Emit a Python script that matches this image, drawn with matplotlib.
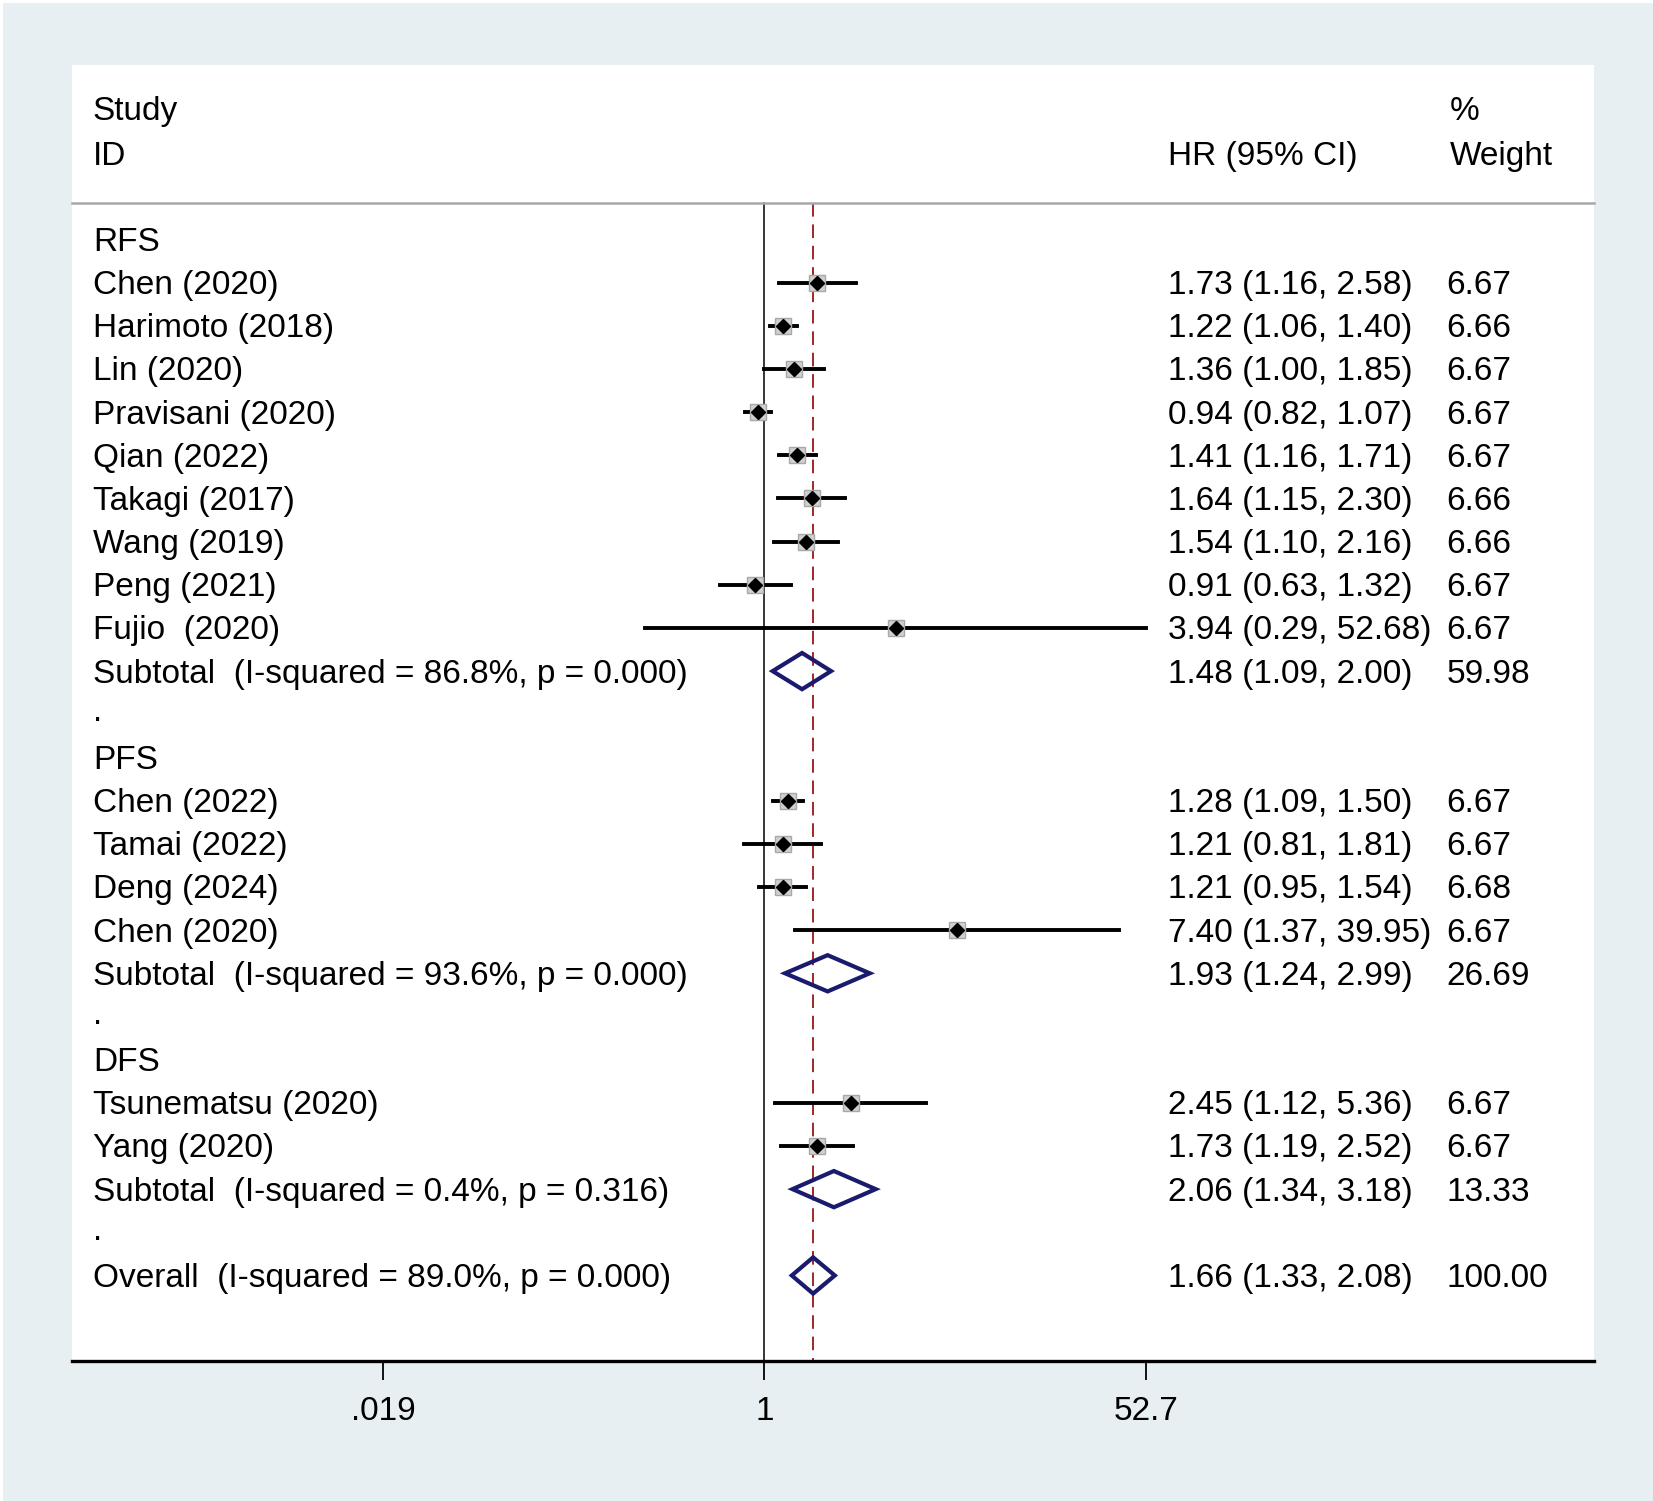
import matplotlib.pyplot as plt
import numpy as np
from matplotlib.patches import Polygon, Rectangle

plt.rcParams["font.family"] = ["Liberation Sans", "DejaVu Sans"]

# study rows, grouped
rfs_names = ["Chen (2020)", "Harimoto (2018)", "Lin (2020)", "Pravisani (2020)", "Qian (2022)",
             "Takagi (2017)", "Wang (2019)", "Peng (2021)", "Fujio  (2020)"]
rfs_hr = [1.73, 1.22, 1.36, 0.94, 1.41, 1.64, 1.54, 0.91, 3.94]
rfs_lo = [1.16, 1.06, 1.00, 0.82, 1.16, 1.15, 1.10, 0.63, 0.29]
rfs_hi = [2.58, 1.40, 1.85, 1.07, 1.71, 2.30, 2.16, 1.32, 52.68]
rfs_w = ["6.67", "6.66", "6.67", "6.67", "6.67", "6.66", "6.66", "6.67", "6.67"]

pfs_names = ["Chen (2022)", "Tamai (2022)", "Deng (2024)", "Chen (2020)"]
pfs_hr = [1.28, 1.21, 1.21, 7.40]
pfs_lo = [1.09, 0.81, 0.95, 1.37]
pfs_hi = [1.50, 1.81, 1.54, 39.95]
pfs_w = ["6.67", "6.67", "6.68", "6.67"]

dfs_names = ["Tsunematsu (2020)", "Yang (2020)"]
dfs_hr = [2.45, 1.73]
dfs_lo = [1.12, 1.19]
dfs_hi = [5.36, 2.52]
dfs_w = ["6.67", "6.67"]

group_labels = ["RFS", "PFS", "DFS"]
sub_labels = ["Subtotal  (I-squared = 86.8%, p = 0.000)",
              "Subtotal  (I-squared = 93.6%, p = 0.000)",
              "Subtotal  (I-squared = 0.4%, p = 0.316)"]
sub_hr = [1.48, 1.93, 2.06]
sub_lo = [1.09, 1.24, 1.34]
sub_hi = [2.00, 2.99, 3.18]
sub_w = ["59.98", "26.69", "13.33"]

overall_label = "Overall  (I-squared = 89.0%, p = 0.000)"
overall_hr, overall_lo, overall_hi, overall_w = 1.66, 1.33, 2.08, "100.00"

tick_vals = [0.019, 1, 52.7]
tick_labels = [".019", "1", "52.7"]

FS = 24
NAVY = "#1a1a6e"
DY = 0.07  # text sits a touch below the marks

fig = plt.figure(figsize=(16.53, 15.01), dpi=100)
fig.patch.set_facecolor("white")
fig.patches.append(Rectangle((0.002, 0.0), 0.998, 0.998, transform=fig.transFigure,
                             facecolor="#e8eff2", edgecolor="none", zorder=-10))

ax = fig.add_axes([0.0434, 0.0933, 0.9209, 0.8634])
ax.set_facecolor("white")
ax.set_xscale("log")
ax.set_xlim(np.exp(-7.196), np.exp(8.62))
y_top, y_bot = -4.04, 25.98
ax.set_ylim(y_bot, y_top)

for s in ["top", "left", "right"]:
    ax.spines[s].set_visible(False)
ax.spines["bottom"].set_linewidth(2.4)
ax.set_yticks([])
ax.set_xticks(tick_vals)
ax.set_xticklabels(tick_labels)
ax.xaxis.set_minor_locator(plt.NullLocator())
ax.tick_params(axis="x", length=14, width=1.3, pad=11, labelsize=FS)

tx = ax.get_yaxis_transform()  # x in axes fraction, y in data
x_name, x_hr, x_w = 0.0139, 0.7203, 0.903


def label(x, y, s):
    ax.text(x, y + DY, s, transform=tx, fontsize=FS, va="center")


hdr = -0.85
ax.plot([0, 1], [hdr, hdr], transform=tx, color="#a8a8a8", lw=1.8, clip_on=False)
label(x_name, -3.03, "Study")
label(x_name, -2.0, "ID")
label(x_hr, -2.0, "HR (95% CI)")
label(x_w + 0.002, -3.03, "%")
label(x_w + 0.002, -2.0, "Weight")

# reference lines
ax.plot([1, 1], [hdr, y_bot], color="black", lw=1.1, zorder=1)
ax.plot([overall_hr, overall_hr], [hdr, y_bot], color="#a02828", lw=1.4,
        dashes=(7, 4), zorder=1)


def ci_text(h, lo, hi):
    return f"{h:.2f} ({lo:.2f}, {hi:.2f})"


def diamond(y, h, lo, hi):
    ax.add_patch(Polygon([(lo, y), (h, y - 0.42), (hi, y), (h, y + 0.42)], closed=True,
                         facecolor="none", edgecolor=NAVY, lw=3.0, zorder=3))


groups = [
    (rfs_names, rfs_hr, rfs_lo, rfs_hi, rfs_w),
    (pfs_names, pfs_hr, pfs_lo, pfs_hi, pfs_w),
    (dfs_names, dfs_hr, dfs_lo, dfs_hi, dfs_w),
]

row = 0
for g, (names, hrs, los, his, ws) in enumerate(groups):
    label(x_name, row, group_labels[g])
    row += 1
    for name, h, lo, hi, w in zip(names, hrs, los, his, ws):
        ax.plot([lo, hi], [row, row], color="black", lw=2.8, zorder=2)
        ax.plot(h, row, marker="s", ms=12, mfc="#d0d0d0", mec="#a8a8a8", mew=1, zorder=3)
        ax.plot(h, row, marker="D", ms=7.5, color="black", zorder=4)
        label(x_name, row, name)
        label(x_hr, row, ci_text(h, lo, hi))
        label(x_w, row, w)
        row += 1
    diamond(row, sub_hr[g], sub_lo[g], sub_hi[g])
    label(x_name, row, sub_labels[g])
    label(x_hr, row, ci_text(sub_hr[g], sub_lo[g], sub_hi[g]))
    label(x_w, row, sub_w[g])
    row += 1
    label(x_name, row - 0.1, ".")
    row += 1

diamond(row, overall_hr, overall_lo, overall_hi)
label(x_name, row, overall_label)
label(x_hr, row, ci_text(overall_hr, overall_lo, overall_hi))
label(x_w, row, overall_w)

fig.savefig("out.png", dpi=100, facecolor=fig.get_facecolor())
